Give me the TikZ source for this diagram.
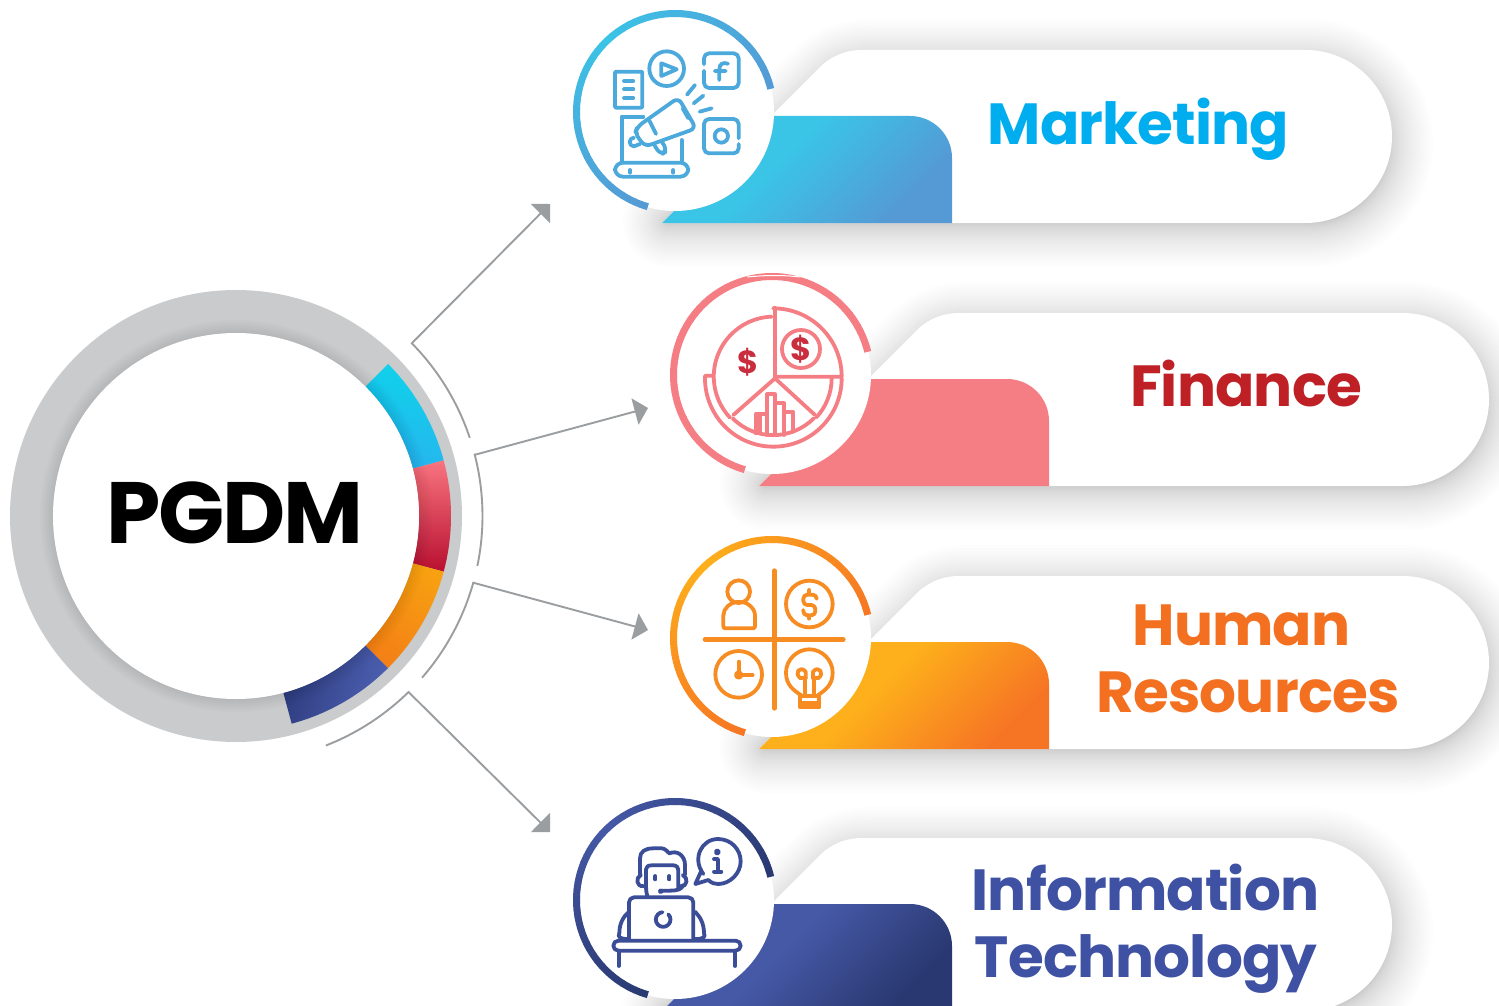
\documentclass[tikz,border=0pt]{standalone}
\usepackage{fontspec}
\setmainfont{Poppins}[BoldFont={Poppins Bold}]
\newfontfamily\poplabel{Poppins Bold}[LetterSpace=-1.5]
\newfontfamily\pophub{Poppins Bold}[LetterSpace=-2.6]
\usetikzlibrary{arrows.meta}
\definecolor{ringgrey}{HTML}{C9CBCD}
\definecolor{conngrey}{HTML}{9A9EA1}
\definecolor{mkA}{HTML}{3AC4E6}\definecolor{mkB}{HTML}{5599D5}
\definecolor{fiA}{HTML}{F57E85}\definecolor{fiB}{HTML}{F57E85}
\definecolor{hrA}{HTML}{FDB01B}\definecolor{hrB}{HTML}{F67524}
\definecolor{itA}{HTML}{4659A7}\definecolor{itB}{HTML}{293870}
\definecolor{mkT}{HTML}{00AEEF}\definecolor{fiT}{HTML}{BE2026}
\definecolor{hrT}{HTML}{F37021}\definecolor{itT}{HTML}{3F51A3}
\definecolor{mkI}{HTML}{4CA9DC}\definecolor{hrI}{HTML}{F78D22}
\definecolor{itI}{HTML}{3B4D96}\definecolor{fiD}{HTML}{C92D3E}
\definecolor{sgA}{HTML}{10D0EA}\definecolor{sgB}{HTML}{3A9FF2}
\definecolor{sgC}{HTML}{F8747F}\definecolor{sgD}{HTML}{B81030}
\definecolor{sgE}{HTML}{F8A810}\definecolor{sgF}{HTML}{F27018}
\definecolor{sgG}{HTML}{4A5DAE}\definecolor{sgH}{HTML}{141C50}
\pgfdeclareverticalshading[tabA,tabB]{tabgrad}{100bp}{color(0bp)=(tabB); color(26bp)=(tabB); color(56bp)=(tabA); color(100bp)=(tabA)}
\tikzset{
  conn/.style={draw=conngrey,line width=1.9pt,-{Triangle[length=13.5pt,width=27pt,fill=conngrey]}},
  connarc/.style={draw=conngrey,line width=1.9pt},
  ico/.style={line width=3.8pt,line cap=round,line join=round,fill=none},
  label/.style={anchor=base,font=\poplabel\fontsize{58}{58}\selectfont},
}
\newcommand\pillpath{(775,112) -- (822,65) .. controls (835,54) and (848,50) .. (862,50) -- (1305.5,50) arc[start angle=-90,end angle=90,radius=86.5] -- (662,223) -- cycle}
\newcommand\shadowpath{(790,116) -- (832,76) .. controls (842,68) and (855,64) .. (870,64) -- (1309,64) arc[start angle=-90,end angle=90,radius=79] -- (668,222) -- cycle}
\newcommand\cardshape[4]{%
 \begin{scope}[shift={(#1,#2)}]
  \fill[black,opacity=.1] \shadowpath;
  \foreach \i in {1,...,30}{
     \pgfmathsetmacro\w{90*(\i/30)*(\i/30)}
     \draw[line width=\w pt,black,opacity=.0085,line join=round] \shadowpath;}
  \fill[white] \pillpath;
  \colorlet{tabA}{#3}\colorlet{tabB}{#4}
  \path[shading=tabgrad,shading angle=45]
     (662,223) -- (770,116) -- (910,116) arc[start angle=-90,end angle=0,radius=42] -- (952,223) -- cycle;
  \fill[white] (675,112) circle (99);
  \foreach \a in {-254,-250,...,-18}{
    \pgfmathsetmacro\mixv{min(100,abs(\a+135)/121*100)}
    \draw[line width=7pt,color=#4!\mixv!#3] (675,112) ++(\a:98.5) arc[start angle=\a,end angle=\a+4.4,radius=98.5];
  }
 \end{scope}}
\newcommand\hubseg[5]{% start,end,top,bottom,angle
  \path[top color=#3,bottom color=#4,shading angle=#5]
   (hub) ++(#1:215) arc[start angle=#1,end angle=#2,radius=215]
   -- ([shift={(#2:183)}]hub) arc[start angle=#2,end angle=#1,radius=183] -- cycle;}
\begin{document}
\begin{tikzpicture}[x=1pt,y=1pt,yscale=-1]
\useasboundingbox (0,0) rectangle (1499,1006);
\clip (0,0) rectangle (1499,1006);
\fill[white] (0,0) rectangle (1499,1006);
\coordinate (hub) at (236,516);
% hub ring
\fill[ringgrey] (hub) circle (226);
\hubseg{-45}{-15}{sgA}{sgB}{-15}
\hubseg{-15}{15}{sgC}{sgD}{0}
\hubseg{15}{45}{sgE}{sgF}{-30}
\hubseg{45}{75}{sgG}{sgH}{-110}
\begin{scope}[shift={(6,14)}]
 \foreach \r in {168,170,...,196}{\fill[black,opacity=.013] (hub) circle (\r);}
\end{scope}
\fill[white] (hub) circle (183);
\node[anchor=base,font=\pophub\fontsize{87}{87}\selectfont] (pgdm) at (235,543) {PGDM};
% connectors
\coordinate (t1) at ([shift={(-18.5:246.5)}]hub);
\coordinate (e1) at (412,343);\coordinate (a1) at (550,204);
\coordinate (t2) at ([shift={(11.7:246.5)}]hub);
\coordinate (e2) at (474,455);\coordinate (a2) at (648,408);
\coordinate (t3) at ([shift={(41:246.5)}]hub);
\coordinate (e3) at (472.5,582.5);\coordinate (a3) at (648,630);
\coordinate (t4) at ([shift={(68.6:246.5)}]hub);
\coordinate (e4) at (408,691.5);\coordinate (a4) at (550,832);
\draw[connarc] (t1) arc[start angle=-18.5,end angle=-44.5,radius=246.5] -- (e1);
\draw[conn] (e1) -- (a1);
\draw[connarc] (t2) arc[start angle=11.7,end angle=-14.4,radius=246.5] -- (e2);
\draw[conn] (e2) -- (a2);
\draw[connarc] (t3) arc[start angle=41,end angle=15.8,radius=246.5] -- (e3);
\draw[conn] (e3) -- (a3);
\draw[connarc] (t4) arc[start angle=68.6,end angle=45.7,radius=246.5] -- (e4);
\draw[conn] (e4) -- (a4);
% cards
\cardshape{0}{0}{mkA}{mkB}
\cardshape{97}{263}{fiA}{fiB}
\cardshape{97}{526}{hrA}{hrB}
\cardshape{0}{788}{itA}{itB}
% labels
\node[label,text=mkT] (lmk) at (1138.5,145) {Marketing};
\node[label,text=fiT] (lfi) at (1246,406) {Finance};
\node[label,text=hrT] (lhr1) at (1241.5,645) {Human};
\node[label,text=hrT] (lhr2) at (1248,712) {Resources};
\node[label,text=itT] (lit1) at (1145.5,910) {Information};
\node[label,text=itT] (lit2) at (1146,977) {Technology};
% icon marketing
\begin{scope}[shift={(560,0)},scale=1/3,ico,draw=mkI]
 \draw[rounded corners=1pt] (165,215) rectangle (247,323);
 \draw (192,243)--(220,243) (192,268)--(220,268) (192,294)--(220,294);
 \draw (320,206) circle (52);
 \draw (304,190)--(350,208)--(304,228)--cycle;
 \draw[rounded corners=5pt] (432,212)--(432,264)--(536,264)--(536,160)--(432,160)--(432,193);
 \draw (504,191) .. controls (488,186) and (478,192) .. (478,208) -- (478,240) (464,213)--(497,213);
 \draw (381,284)--(405,255) (401,310)--(430,287) (419,335)--(455,325);
 \draw[rounded corners=6pt] (255,440)--(225,400)--(232,380)--(355,293)--(408,385)--cycle;
 \draw (268,362)--(288,402) (368,325)--(385,355);
 \draw (222,413) arc[start angle=-90,end angle=-270,radius=13] -- (240,432);
 \draw[rounded corners=6pt] (284,437)--(302,465)--(322,452)--(306,426);
 \draw (250,350)--(185,350)--(185,483) (365,420)--(365,483);
 \draw[rounded corners=8pt] (165,488)--(385,488)--(385,530)--(165,530)--cycle;
 \draw (210,518)--(210,510) (340,518)--(340,510);
 \draw[rounded corners=5pt] (536,415)--(536,357)--(432,357)--(432,460)--(536,460)--(536,432);
 \draw (484,408) circle (20);
\end{scope}
% icon finance
\begin{scope}[shift={(660,265)},scale=1/3,ico,draw=fiA]
 \draw[white,line width=1pt] (262,36) .. controls (320,30) and (370,30) .. (420,36);
 \draw (335,155) arc[start angle=268,end angle=137,radius=180];
 \draw (345,128)--(345,335)--(545,335) arc[start angle=0,end angle=-90,radius=205] -- cycle;
 \draw (345,340)--(220,450) (345,340)--(465,450);
 \draw (218,460) arc[start angle=135,end angle=45,radius=172];
 \draw (515,340) arc[start angle=0,end angle=43,radius=172];
 \draw (135,332)--(158,332) (135,332) -- (135,340) arc[start angle=180,end angle=0,radius=205];
 \draw (423,252) circle (57);
 \draw (287,505)--(287,447)--(316,447) (321,510)--(321,388)--(345,388)--(345,510) (345,415)--(372,415)--(372,510) (372,442)--(400,442)--(400,500) (300,505)--(300,447);
\end{scope}
\node[font=\bfseries\fontsize{32}{32}\selectfont,text=fiD] (d1) at (748.5,362.5) {\$};
\node[font=\bfseries\fontsize{32}{32}\selectfont,text=fiD] (d2) at (801,349.5) {\$};
% icon hr
\begin{scope}[shift={(660,530)},scale=1/3,ico,draw=hrI]
 \draw[line width=4.6pt] (343,122)--(343,535) (135,328)--(550,328);
 \draw (236,185) circle (34);
 \draw[rounded corners=2pt] (190,295)--(190,262) .. controls (190,235) and (212,216) .. (237,216) .. controls (262,216) and (285,235) .. (285,262) -- (285,295) -- cycle;
 \draw (448,222) circle (70);
 \draw[rounded corners=4pt] (470,205)--(470,194)--(430,194)--(430,225)--(466,225)--(466,256)--(430,256)--(430,240);
 \draw (448,180)--(448,192) (448,258)--(448,266);
 \draw (236,433) circle (70);
 \draw (236,395)--(236,435)--(278,435);
 \fill[hrI,draw=hrI] (236,435) circle (8);
 \draw (425,497) .. controls (400,480) and (378,465) .. (378,428) .. controls (378,390) and (410,358) .. (448,358) .. controls (486,358) and (518,390) .. (518,428) .. controls (518,465) and (496,480) .. (472,497);
 \draw (420,497)--(478,497)--(478,532)--(420,532)--cycle (420,518)--(478,518);
 \draw (435,497)--(435,445) (461,497)--(461,445);
 \draw (422,445)--(437,445) (459,445)--(474,445);
 \draw (422,445) .. controls (400,430) and (420,405) .. (437,425) -- (437,445);
 \draw (474,445) .. controls (496,430) and (476,405) .. (459,425) -- (459,445);
\end{scope}
% icon it
\begin{scope}[shift={(560,790)},scale=1/3,ico,draw=itI]
 \draw[rounded corners=5pt] (160,452)--(542,452)--(542,482)--(160,482)--cycle;
 \draw (176,482)--(176,528) (525,482)--(525,528);
 \draw[rounded corners=5pt] (207,450)--(207,322)--(400,322)--(400,450);
 \draw (325,373) arc[start angle=-45,end angle=265,radius=22];
 \draw (207,365) .. controls (190,380) and (178,400) .. (178,430) .. controls (172,440) and (180,448) .. (205,447);
 \draw (405,365) .. controls (420,380) and (432,400) .. (432,430) .. controls (438,440) and (430,448) .. (405,447);
 \draw (262,318) .. controls (258,305) and (258,295) .. (258,285) -- (258,238) .. controls (258,230) and (265,226) .. (275,226) -- (340,226) .. controls (350,226) and (355,232) .. (355,245) -- (355,298);
 \draw (240,255) -- (240,205) .. controls (240,185) and (255,175) .. (280,175) -- (305,175) .. controls (315,175) and (322,185) .. (328,190) .. controls (350,180) and (375,195) .. (375,225) -- (375,255);
 \draw (243,255) .. controls (225,262) and (230,292) .. (250,288);
 \draw (368,255) .. controls (386,262) and (382,292) .. (362,288);
 \draw (300,302) -- (330,302) .. controls (350,302) and (368,298) .. (368,285);
 \fill[itI,draw=itI] (302,304) circle (3);
 \draw (286,258)--(286,268) (328,258)--(328,268);
 \draw (430,252) .. controls (395,205) and (425,147) .. (474,147) .. controls (515,147) and (542,180) .. (542,214) .. controls (542,250) and (510,282) .. (474,282) .. controls (465,282) and (455,280) .. (445,270) -- (406,282) -- (425,240);
 \fill[itI,draw=itI] (472,186) circle (5);
 \draw (462,207)--(474,207)--(474,245) (462,245)--(484,245);
\end{scope}
\end{tikzpicture}
\end{document}
